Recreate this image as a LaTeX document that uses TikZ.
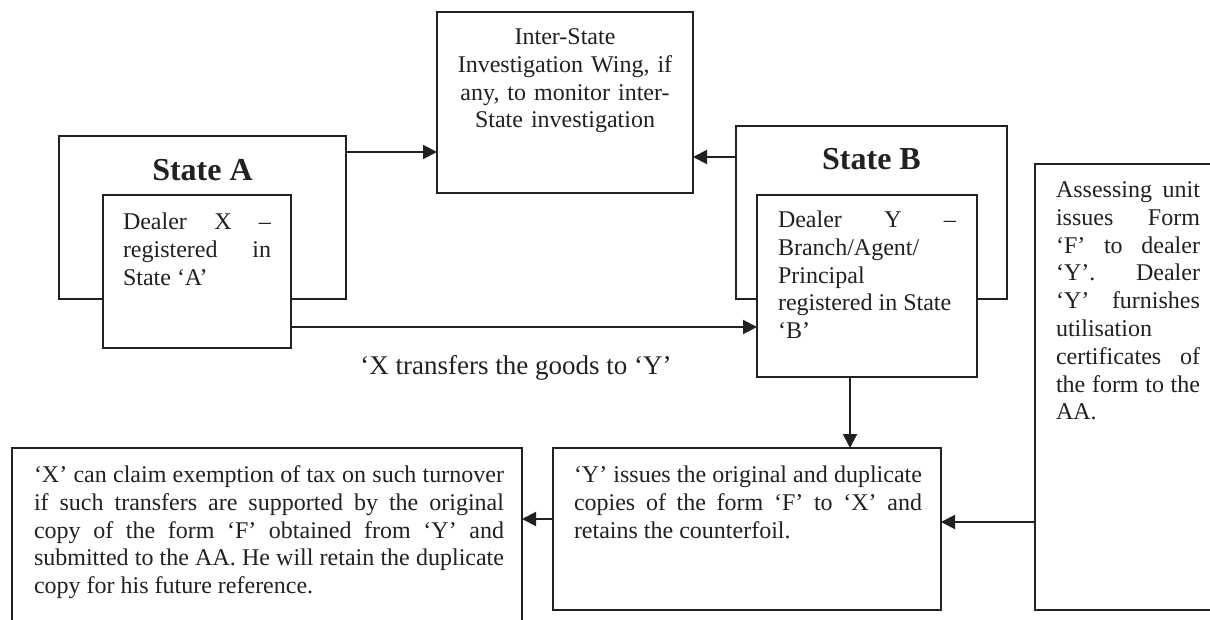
\documentclass[tikz,border=0pt]{standalone}
\usepackage{fontspec}
\setmainfont{Liberation Serif}
\usetikzlibrary{arrows.meta}
\definecolor{ink}{gray}{0.13}
\hyphenpenalty=10000
\tolerance=10000
\begin{document}
\begin{tikzpicture}[x=0.5pt,y=-0.5pt,
  frame/.style={draw=ink,line width=1.1pt,fill=white,inner sep=0pt,outer sep=0pt,anchor=north west},
  body/.style={inner sep=0pt,outer sep=0pt,anchor=north west,align=justify,text=ink,font=\fontsize{12pt}{13.9pt}\selectfont},
  boxtitle/.style={inner sep=0pt,anchor=base,text=ink,font=\fontsize{16pt}{19pt}\selectfont\bfseries},
  arr/.style={draw=ink,line width=1pt,-{Triangle[length=7pt,width=7pt]}}]
\clip (0,0) rectangle (1210,620);
% boxes
\node[frame,minimum width=128pt,minimum height=90.5pt] (wing) at (437,12) {};
\node[frame,minimum width=143.5pt,minimum height=81.5pt] (stateA) at (59,136) {};
\node[frame,minimum width=94pt,minimum height=76.5pt] (dealerX) at (103,195) {};
\node[frame,minimum width=135.5pt,minimum height=86.5pt] (stateB) at (736,126) {};
\node[frame,minimum width=110pt,minimum height=91pt] (dealerY) at (757,195) {};
\node[frame,minimum width=100pt,minimum height=223pt] (rightbox) at (1035,164) {};
\node[frame,minimum width=255pt,minimum height=100pt] (leftbox) at (12,448) {};
\node[frame,minimum width=194pt,minimum height=81pt] (midbox) at (553,448) {};
% titles
\node[boxtitle] (titleA) at (202.5,180.5) {State A};
\node[boxtitle] (titleB) at (871.5,169.5) {State B};
% texts
\node[body,align=center,anchor=north,text width=125pt] (wingtext) at (565,25)
  {\strut Inter-State\\ Investigation Wing, if\\ any, to monitor inter-\\ State investigation};
\node[body,text width=74pt] (xtext) at (123,210)
  {\strut Dealer X –\linebreak registered in\linebreak State ‘A’};
\node[body,text width=89pt] (ytext) at (778,208)
  {\strut Dealer Y –\linebreak Branch/Agent/\\ Principal\\ registered in State\\ ‘B’};
\node[body,text width=72pt] (rtext) at (1056,178)
  {\strut Assessing unit\linebreak issues Form\linebreak ‘F’ to dealer\linebreak ‘Y’. Dealer\linebreak ‘Y’ furnishes\linebreak utilisation\\ certificates of\linebreak the form to the\linebreak AA.};
\node[body,text width=235pt] (ltext) at (34,463)
  {\strut ‘X’ can claim exemption of tax on such turnover\linebreak if such transfers are supported by the original\linebreak copy of the form ‘F’ obtained from ‘Y’ and\linebreak submitted to the AA. He will retain the duplicate\linebreak copy for his future reference.};
\node[body,text width=174pt] (mtext) at (574,463)
  {\strut ‘Y’ issues the original and duplicate\linebreak copies of the form ‘F’ to ‘X’ and\linebreak retains the counterfoil.};
\node[inner sep=0pt,anchor=base,text=ink,font=\fontsize{13.5pt}{16pt}\selectfont] (lbl) at (516,374)
  {‘X transfers the goods to ‘Y’};
% connectors
\coordinate (a1) at ([yshift=-8pt]stateA.north east);
\draw[arr] (a1) -- (a1 -| wing.west);
\coordinate (b1) at ([yshift=-15.5pt]stateB.north west);
\draw[arr] (b1) -- (b1 -| wing.east);
\coordinate (x1) at ([yshift=10.5pt]dealerX.south east);
\draw[arr] (x1) -- (x1 -| dealerY.west);
\coordinate (y1) at ([xshift=-8.5pt]dealerY.south);
\draw[arr] (y1) -- (y1 |- midbox.north);
\coordinate (m1) at ([yshift=-37pt]midbox.north east);
\draw[arr] (m1 -| rightbox.west) -- (m1);
\coordinate (m2) at ([yshift=-35.5pt]midbox.north west);
\draw[arr] (m2) -- (m2 -| leftbox.east);
\end{tikzpicture}
\end{document}
